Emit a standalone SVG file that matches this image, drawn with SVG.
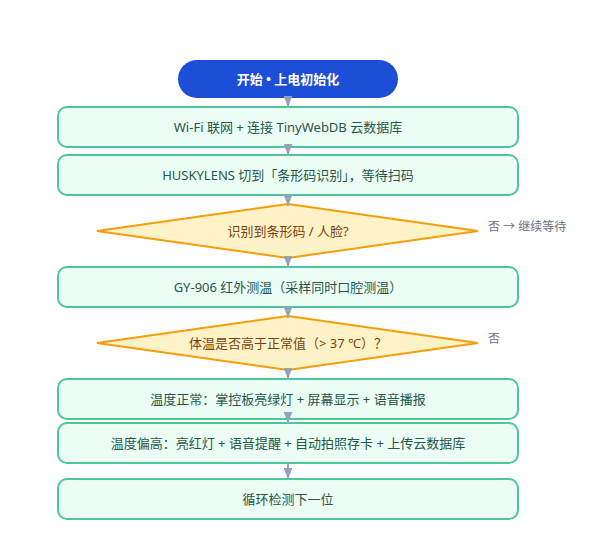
<svg xmlns="http://www.w3.org/2000/svg" width="590" height="544" viewBox="0 0 590 544">
<defs>
<style>
.box{fill:#ecfdf5;stroke:#4cc79a;stroke-width:2}
.dia{fill:#fef3c7;stroke:#f59e0b;stroke-width:2;stroke-linejoin:miter}
.t{font-family:"Noto Sans","Noto Sans CJK SC",sans-serif;font-size:13px;text-anchor:middle;dominant-baseline:central}
.bt{fill:#24584a}
.dt{fill:#7c3f10}
.side{font-family:"Noto Sans","Noto Sans CJK SC",sans-serif;font-size:12px;fill:#6b7280;dominant-baseline:central}
.ln{stroke:#94a3b8;stroke-width:2;fill:none}
</style>
<marker id="ah" viewBox="0 0 10 8" refX="10" refY="4" markerWidth="11" markerHeight="9" markerUnits="userSpaceOnUse" orient="auto">
<path d="M0,0 L10,4 L0,8 Z" fill="#94a3b8"/>
</marker>
</defs>
<rect width="590" height="544" fill="#ffffff"/>
<g id="start">
<rect x="178" y="60" width="220" height="38" rx="19" fill="#1d4ed8"/>
<text class="t" x="288" y="79" fill="#ffffff" font-weight="bold">开始 • 上电初始化</text>
</g>
<g id="wifi">
<rect class="box" x="58" y="107" width="460" height="40" rx="9"/>
<text class="t bt" x="288" y="127">Wi-Fi 联网 + 连接 TinyWebDB 云数据库</text>
</g>
<g id="husky">
<rect class="box" x="58" y="155" width="460" height="40" rx="9"/>
<text class="t bt" x="288" y="175">HUSKYLENS 切到「条形码识别」，等待扫码</text>
</g>
<g id="detect">
<polygon class="dia" points="288,204 478,231 288,258 97,231"/>
<text class="t dt" x="288" y="231">识别到条形码 / 人脸?</text>
<text class="side" x="488" y="226">否 → 继续等待</text>
</g>
<g id="measure">
<rect class="box" x="58" y="267" width="460" height="40" rx="9"/>
<text class="t bt" x="288" y="287">GY-906 红外测温（采样同时口腔测温）</text>
</g>
<g id="check">
<polygon class="dia" points="288,316 478,343 288,370 97,343"/>
<text class="t dt" x="288" y="343">体温是否高于正常值（&gt; 37 ℃）？</text>
<text class="side" x="488" y="338">否</text>
</g>
<g id="normal">
<rect class="box" x="58" y="379" width="460" height="40" rx="9"/>
<text class="t bt" x="288" y="399">温度正常：掌控板亮绿灯 + 屏幕显示 + 语音播报</text>
</g>
<g id="high">
<rect class="box" x="58" y="423" width="460" height="40" rx="9"/>
<text class="t bt" x="288" y="443">温度偏高：亮红灯 + 语音提醒 + 自动拍照存卡 + 上传云数据库</text>
</g>
<g id="loop">
<rect class="box" x="58" y="479" width="460" height="40" rx="9"/>
<text class="t bt" x="288" y="499">循环检测下一位</text>
</g>
<g id="connectors">
<line class="ln" x1="288" y1="98" x2="288" y2="107" marker-end="url(#ah)"/>
<line class="ln" x1="288" y1="147" x2="288" y2="155" marker-end="url(#ah)"/>
<line class="ln" x1="288" y1="195" x2="288" y2="206" marker-end="url(#ah)"/>
<line class="ln" x1="288" y1="258" x2="288" y2="267" marker-end="url(#ah)"/>
<line class="ln" x1="288" y1="307" x2="288" y2="318" marker-end="url(#ah)"/>
<line class="ln" x1="288" y1="370" x2="288" y2="379" marker-end="url(#ah)"/>
<line class="ln" x1="288" y1="419" x2="288" y2="423" marker-end="url(#ah)"/>
<line class="ln" x1="288" y1="463" x2="288" y2="479" marker-end="url(#ah)"/>
</g>
</svg>
